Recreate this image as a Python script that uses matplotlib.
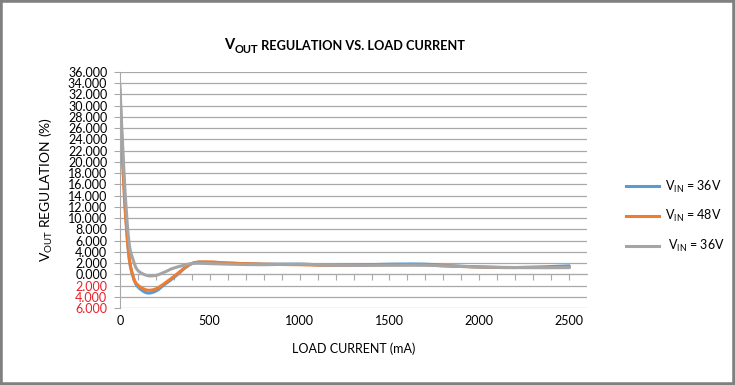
import matplotlib
matplotlib.use("Agg")
import matplotlib.pyplot as plt
import numpy as np
from matplotlib.path import Path
from matplotlib.patches import PathPatch, Rectangle
from matplotlib.lines import Line2D
from matplotlib.ticker import MultipleLocator, FuncFormatter

plt.rcParams['font.family'] = ['Lato', 'DejaVu Sans']
plt.rcParams['mathtext.fontset'] = 'custom'
plt.rcParams['mathtext.rm'] = 'Lato'

# load current (mA)
load_ma = [0, 25, 50, 75, 100, 150, 200, 250, 300, 400, 500, 600, 800,
           1000, 1200, 1500, 1700, 1800, 2000, 2200, 2500]
# regulation (%)
reg_36v_a = [33, 15, 3.5, -0.5, -2.2, -3.3, -3.0, -1.8, -0.6, 1.9, 2.1, 2.0, 1.8,
             1.8, 1.6, 1.8, 1.8, 1.6, 1.3, 1.2, 1.5]
reg_48v = [31, 14, 3.5, -0.5, -1.9, -2.8, -2.6, -1.6, -0.4, 1.9, 2.2, 2.0, 1.8,
           1.7, 1.6, 1.7, 1.7, 1.5, 1.3, 1.2, 1.2]
reg_36v_b = [34, 17, 6, 2.5, 0.7, -0.2, -0.2, 0.4, 1.1, 1.9, 1.9, 1.8, 1.7,
             1.8, 1.6, 1.6, 1.6, 1.5, 1.3, 1.2, 1.2]

series_labels = [r"V$_{\mathrm{IN}}$ = 36V", r"V$_{\mathrm{IN}}$ = 48V", r" V$_{\mathrm{IN}}$ = 36V"]
series_colors = ["#5B9BD5", "#ED7D31", "#A5A5A5"]


def smooth_path(xs, ys):
    # excel-like smoothed line: catmull-rom segments as cubic beziers
    p = np.column_stack([xs, ys]).astype(float)
    verts = [p[0]]
    codes = [Path.MOVETO]
    n = len(p)
    for i in range(n - 1):
        p0 = p[i - 1] if i > 0 else p[i]
        p3 = p[i + 2] if i + 2 < n else p[i + 1]
        c1 = p[i] + (p[i + 1] - p0) / 6
        c2 = p[i + 1] - (p3 - p[i]) / 6
        verts += [c1, c2, p[i + 1]]
        codes += [Path.CURVE4] * 3
    return Path(verts, codes)


fig = plt.figure(figsize=(7.35, 3.85), dpi=100)
ax = fig.add_axes([0.163, 0.2, 0.636, 0.613])

for ys, c in zip([reg_36v_a, reg_48v, reg_36v_b], series_colors):
    ax.add_patch(PathPatch(smooth_path(load_ma, ys), fill=False, edgecolor=c,
                           lw=2.2, capstyle='round', joinstyle='round'))

ax.set_xlim(0, 2600)
ax.set_ylim(-6, 36)
ax.yaxis.set_major_locator(MultipleLocator(2))
ax.set_xticks([0, 500, 1000, 1500, 2000, 2500])
ax.grid(axis='y', color='#a9a9a9', lw=0.9)
ax.set_axisbelow(True)

for s in ['top', 'right', 'bottom']:
    ax.spines[s].set_visible(False)
ax.spines['left'].set_color('#a9a9a9')

ax.yaxis.set_major_formatter(FuncFormatter(lambda v, pos: "%.3f" % abs(v)))
ax.tick_params(axis='y', length=4, color='#a9a9a9', labelsize=9, pad=5)
ax.tick_params(axis='x', length=0, labelsize=9, pad=5)
for lab, v in zip(ax.get_yticklabels(), ax.get_yticks()):
    if v < 0:
        lab.set_color('#e8202a')

# horizontal axis line at zero with minor ticks
sec = ax.secondary_xaxis(6 / 42)
sec.set_xticks(np.arange(100, 2600, 100))
sec.set_xticklabels([])
sec.tick_params(length=4, color='#a9a9a9', direction='out')
sec.spines['bottom'].set_color('#a9a9a9')

ax.set_xlabel("LOAD CURRENT (mA)", fontsize=9, labelpad=11)
ax.set_ylabel(r"V$_{\mathrm{OUT}}$ REGULATION (%)", fontsize=10, labelpad=9)

# title built from pieces for the subscript
t1 = fig.text(0.305, 0.873, "V", fontsize=10.5, fontweight='bold')
t2 = ax.annotate("OUT", xy=(1, 0), xycoords=t1, xytext=(0.3, -2.2),
                 textcoords='offset points', fontsize=8, fontweight='bold',
                 va='bottom')
ax.annotate(" REGULATION VS. LOAD CURRENT", xy=(1, 0), xycoords=t2,
            xytext=(0, 2.2), textcoords='offset points', fontsize=9.2,
            fontweight='bold', va='bottom')

handles = [Line2D([], [], color=c, lw=2.2) for c in series_colors]
fig.legend(handles, series_labels, loc='center left', bbox_to_anchor=(0.837, 0.438),
           frameon=False, fontsize=9, handlelength=2.6, handletextpad=0.5,
           labelspacing=1.1)

fig.patches.append(Rectangle((0, 0), 1, 1, transform=fig.transFigure, fill=False,
                             edgecolor='#808080', lw=4))

fig.savefig("out.png", dpi=100)
